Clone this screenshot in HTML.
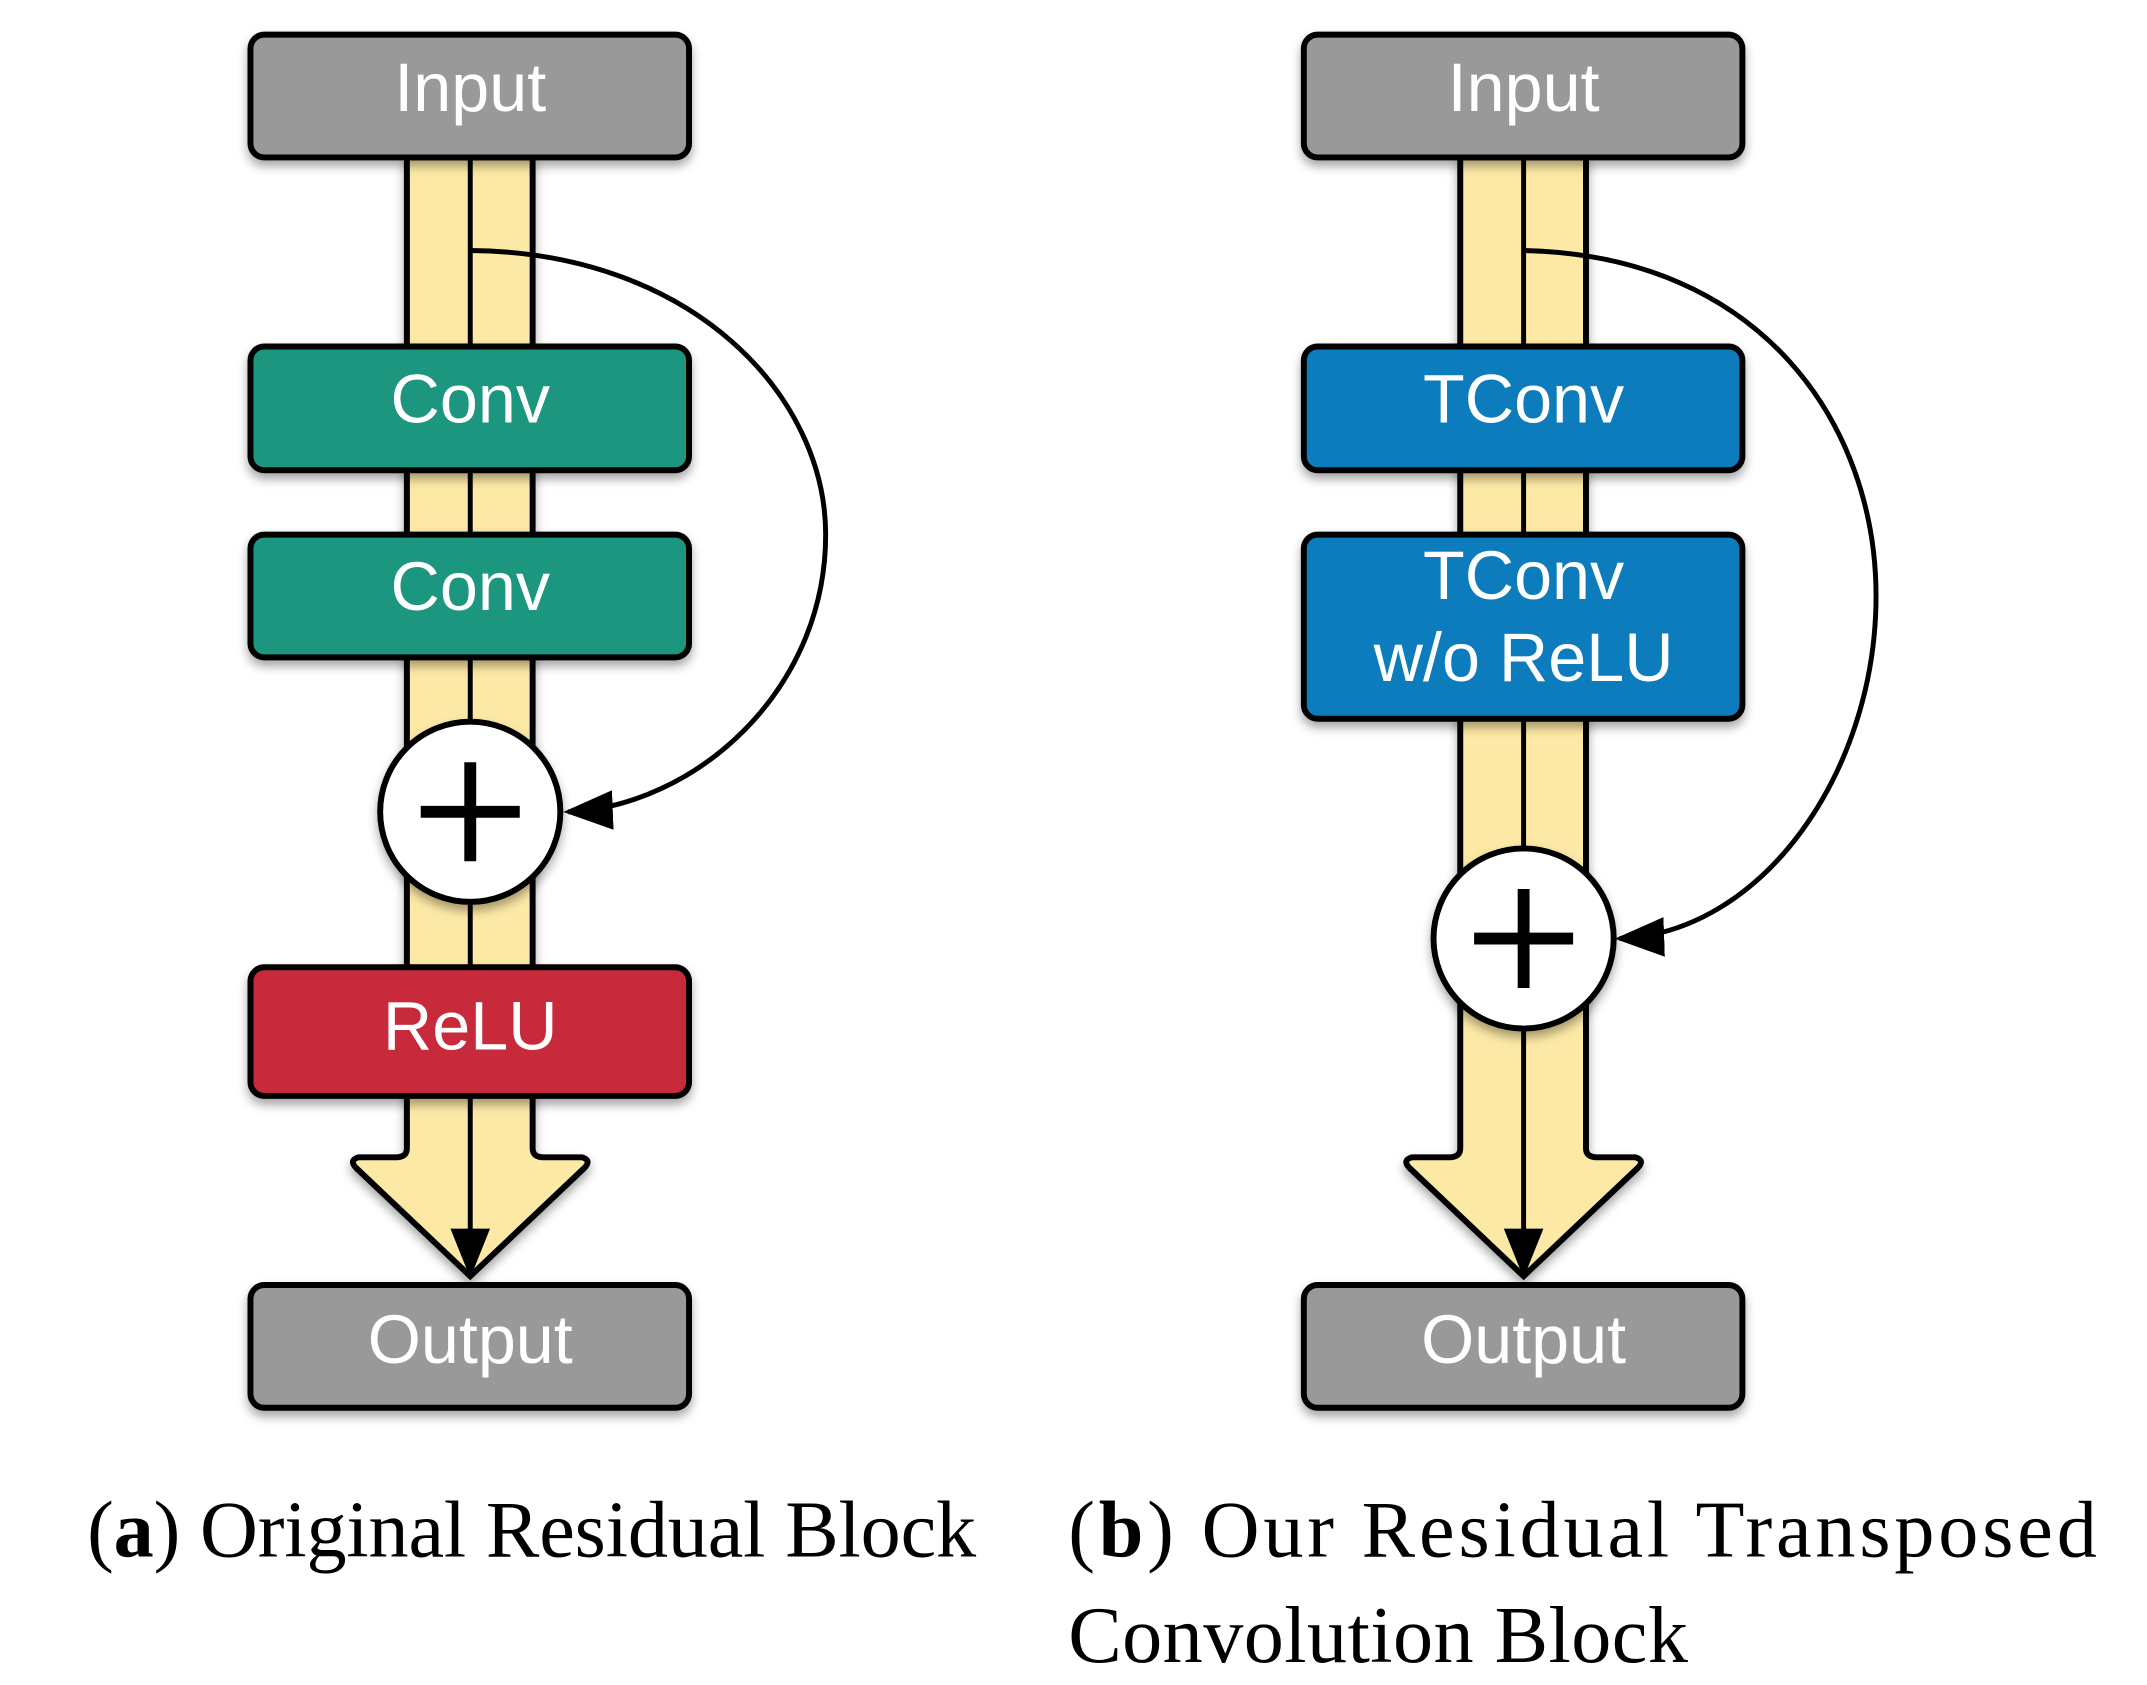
<!DOCTYPE html>
<html><head><meta charset="utf-8"><style>
html,body{margin:0;padding:0;background:#fff;}
svg{display:block;}
</style></head><body>
<svg width="2147" height="1685" viewBox="0 0 2147 1685" xmlns="http://www.w3.org/2000/svg">
<defs>
<filter id="sh" x="-10%" y="-20%" width="120%" height="150%"><feDropShadow dx="0" dy="6" stdDeviation="5" flood-color="#000" flood-opacity="0.35"/></filter>
<marker id="ah" markerWidth="10" markerHeight="8" refX="9" refY="4" orient="auto" markerUnits="strokeWidth"><path d="M0,0 L10,4 L0,8 z" fill="#000"/></marker>
</defs>
<g transform="scale(0.99)">
<g id="L">
<path d="M411 159 L411 1160 Q411 1169 400 1169 L362 1169 Q352 1172 360 1180 L475 1289 L590 1180 Q598 1172 588 1169 L549 1169 Q538 1169 538 1160 L538 159 Z" fill="#fde9a6" stroke="#000" stroke-width="6" filter="url(#sh)"/>
<line x1="475" y1="159" x2="475" y2="1286" stroke="#000" stroke-width="5" marker-end="url(#ah)"/>
</g>
<g transform="translate(1064,0)">
<path d="M411 159 L411 1160 Q411 1169 400 1169 L362 1169 Q352 1172 360 1180 L475 1289 L590 1180 Q598 1172 588 1169 L549 1169 Q538 1169 538 1160 L538 159 Z" fill="#fde9a6" stroke="#000" stroke-width="6" filter="url(#sh)"/>
<line x1="475" y1="159" x2="475" y2="1286" stroke="#000" stroke-width="5" marker-end="url(#ah)"/>
</g>
<path d="M475 253 C 700 255, 834 400, 834 540 C 834 700, 700 815, 574 820" fill="none" stroke="#000" stroke-width="5" marker-end="url(#ah)"/>
<path d="M1539 253 C 1780 258, 1895 430, 1895 602 C 1895 780, 1780 943, 1636 948" fill="none" stroke="#000" stroke-width="5" marker-end="url(#ah)"/>
<g stroke="#000" stroke-width="6">
<rect x="253" y="35" width="443" height="124" rx="14" fill="#999" filter="url(#sh)"/>
<rect x="253" y="350" width="443" height="125" rx="14" fill="#1e967e" filter="url(#sh)"/>
<rect x="253" y="540" width="443" height="124" rx="14" fill="#1e967e" filter="url(#sh)"/>
<rect x="253" y="977" width="443" height="130" rx="14" fill="#c72c3a" filter="url(#sh)"/>
<rect x="253" y="1298" width="443" height="124" rx="14" fill="#999" filter="url(#sh)"/>
<circle cx="475" cy="820" r="91" fill="#fff" filter="url(#sh)"/>
<rect x="1317" y="35" width="443" height="124" rx="14" fill="#999" filter="url(#sh)"/>
<rect x="1317" y="350" width="443" height="125" rx="14" fill="#0e7bbd" filter="url(#sh)"/>
<rect x="1317" y="540" width="443" height="186" rx="14" fill="#0e7bbd" filter="url(#sh)"/>
<rect x="1317" y="1298" width="443" height="124" rx="14" fill="#999" filter="url(#sh)"/>
<circle cx="1539" cy="948" r="91" fill="#fff" filter="url(#sh)"/>
</g>
<g stroke="#000" stroke-width="12">
<line x1="425" y1="820" x2="525" y2="820"/><line x1="475" y1="770" x2="475" y2="870"/>
<line x1="1489" y1="948" x2="1589" y2="948"/><line x1="1539" y1="898" x2="1539" y2="998"/>
</g>
<g font-family="Liberation Sans, sans-serif" font-size="69" fill="#fff" text-anchor="middle">
<text x="475" y="112">Input</text>
<text x="475" y="427">Conv</text>
<text x="475" y="616">Conv</text>
<text x="475" y="1060">ReLU</text>
<text x="475" y="1377">Output</text>
<text x="1539" y="112">Input</text>
<text x="1539" y="427">TConv</text>
<text x="1539" y="605">TConv</text>
<text x="1539" y="688">w/o ReLU</text>
<text x="1539" y="1377">Output</text>
</g>
<g font-family="Liberation Serif, serif" font-size="81" fill="#000">
<text x="88" y="1572" textLength="898" lengthAdjust="spacing">(<tspan font-weight="bold">a</tspan>) Original Residual Block</text>
<text x="1079" y="1572" textLength="1039" lengthAdjust="spacing">(<tspan font-weight="bold">b</tspan>)  Our  Residual  Transposed</text>
<text x="1079" y="1679" textLength="626" lengthAdjust="spacing">Convolution Block</text>
</g>
</g>
</svg>
</body></html>
